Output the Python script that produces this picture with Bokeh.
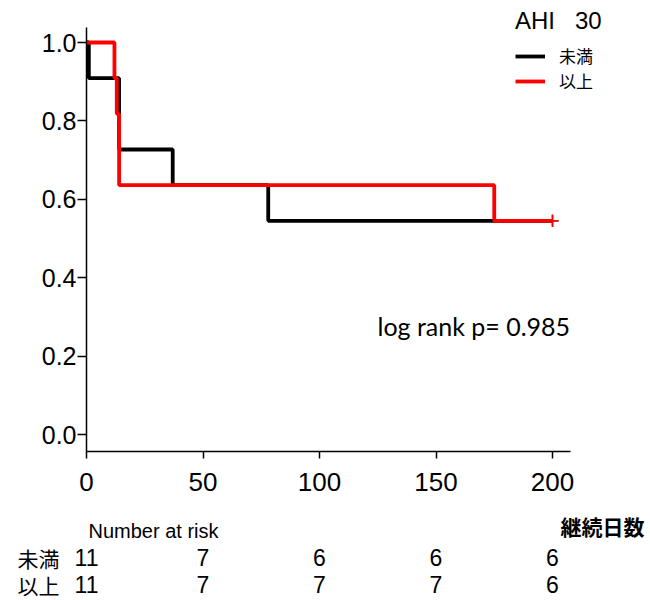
from bokeh.plotting import figure
from bokeh.models import Range1d, FixedTicker, PrintfTickFormatter, Label, Legend, LegendItem
from bokeh.embed import file_html
from bokeh.resources import INLINE

# ---- data ----
time_lt = [0, 1, 14, 37, 78, 200]
surv_lt = [1.0, 0.909, 0.727, 0.636, 0.545, 0.545]
time_ge = [0, 12, 13, 14, 175, 200]
surv_ge = [1.0, 0.909, 0.818, 0.636, 0.545, 0.545]
censor_time = [200]
censor_lt = [0.545]
censor_ge = [0.545]
risk_times = [0, 50, 100, 150, 200]
risk_lt = [11, 7, 6, 6, 6]
risk_ge = [11, 7, 7, 7, 6]
group_names = ["未満", "以上"]
x_ticks = [0, 50, 100, 150, 200]
y_ticks = [0.0, 0.2, 0.4, 0.6, 0.8, 1.0]
legend_title = "AHI   30"
pvalue_text = "log rank p= 0.985"
xlabel_text = "継続日数"
risk_title = "Number at risk"

# ---- layout helpers (canvas pixel -> data) ----
W, H = 650, 600
X0_PX, X_SCALE = 86.0, 2.33
Y0_PX, Y_SCALE = 434.0, 392.0
def dx(px):
    return (px - X0_PX) / X_SCALE
def dy(py):
    return (Y0_PX - py) / Y_SCALE

p = figure(width=W, height=H,
           x_range=Range1d(dx(0), dx(W)), y_range=Range1d(dy(H), dy(0)),
           output_backend="svg", toolbar_location=None,
           min_border=0)
p.outline_line_color = None
p.xgrid.visible = False
p.ygrid.visible = False
p.background_fill_color = "white"
p.border_fill_color = "white"

FONT = "Liberation Sans"
CJK = "Noto Sans CJK JP"

for ax in (p.xaxis[0], p.yaxis[0]):
    ax.axis_line_color = "black"
    ax.axis_line_width = 1.5
    ax.major_tick_line_color = "black"
    ax.major_tick_line_width = 1.5
    ax.major_tick_in = 0
    ax.minor_tick_line_color = None
    ax.major_label_text_font = FONT
    ax.major_label_text_color = "black"

p.xaxis.ticker = FixedTicker(ticks=x_ticks)
p.xaxis.fixed_location = dy(451)
p.xaxis.bounds = (0, dx(570))
p.xaxis.major_tick_out = 7
p.xaxis.major_label_text_font_size = "26px"
p.xaxis.major_label_standoff = 14

p.yaxis.ticker = FixedTicker(ticks=y_ticks)
p.yaxis.formatter = PrintfTickFormatter(format="%.1f")
p.yaxis.fixed_location = 0
p.yaxis.bounds = (dy(451), dy(27))
p.yaxis.major_tick_out = 9
p.yaxis.major_label_text_font_size = "25px"
p.yaxis.major_label_standoff = 1

r_lt = p.step(time_lt, surv_lt, mode="after", line_color="black", line_width=3.8)
p.scatter(censor_time, censor_lt, marker="cross", size=12, line_color="black", line_width=1.5)
r_ge = p.step(time_ge, surv_ge, mode="after", line_color="#ff0000", line_width=3.8)
p.scatter(censor_time, censor_ge, marker="cross", size=12, line_color="#ff0000", line_width=1.5)

legend = Legend(items=[LegendItem(label=group_names[0], renderers=[r_lt]),
                       LegendItem(label=group_names[1], renderers=[r_ge])],
                location=(515, H - 93), title=legend_title,
                title_text_font=FONT, title_text_font_size="24px",
                title_text_font_style="normal", title_text_color="black",
                title_standoff=8,
                label_text_font=CJK, label_text_font_size="17px",
                label_text_color="black",
                glyph_width=30, glyph_height=24, label_height=24,
                label_standoff=14, spacing=0, padding=0, margin=0,
                border_line_color=None, background_fill_alpha=0)
p.add_layout(legend, "center")

p.add_layout(Label(x=dx(377), y=dy(325), text=pvalue_text, text_font="Lato",
                   text_font_size="25px", text_baseline="middle", text_align="left",
                   text_color="black"))
p.add_layout(Label(x=dx(644), y=dy(525), text=xlabel_text, text_font=CJK,
                   text_font_size="21px", text_font_style="bold",
                   text_baseline="middle", text_align="right", text_color="black"))
p.add_layout(Label(x=dx(88), y=dy(530), text=risk_title, text_font=FONT,
                   text_font_size="20px", text_baseline="middle", text_align="left",
                   text_color="black"))

row_py = [557, 584]
for name, counts, py in zip(group_names, [risk_lt, risk_ge], row_py):
    p.add_layout(Label(x=dx(17), y=dy(py), text=name, text_font=CJK,
                       text_font_size="21px", text_baseline="middle", text_align="left",
                       text_color="black"))
    for t, n in zip(risk_times, counts):
        p.add_layout(Label(x=t, y=dy(py), text=str(n), text_font=FONT,
                           text_font_size="23px", text_baseline="middle", text_align="center",
                           text_color="black"))

open("out.html", "w").write(file_html(p, INLINE))
